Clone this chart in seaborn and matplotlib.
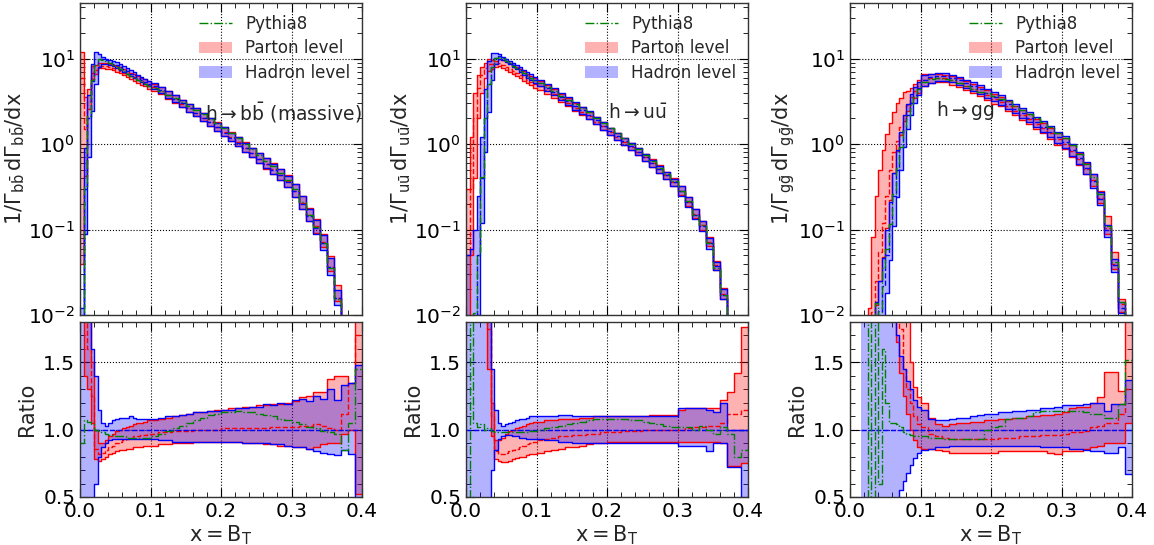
import numpy as np
import pandas as pd
import matplotlib
matplotlib.use("Agg")
import matplotlib.pyplot as plt
import seaborn as sns
from matplotlib.lines import Line2D
from matplotlib.patches import Patch
from matplotlib.ticker import MultipleLocator, LogLocator

nan = np.nan

# bin edges: 0.005 wide below 0.1, 0.01 wide above
x_edges = np.round(np.concatenate([np.linspace(0, 0.095, 20), np.linspace(0.1, 0.4, 31)]), 4)

# ---------------- h -> b bbar (massive) ----------------
# hadron-level central value (top panel), one value per bin
bb_hadron = [0.004, 0.3, 2.0, 5.5, 8.5, 10.0, 10.0, 9.6, 9.2, 8.8,
             8.4, 8.0, 7.5, 7.1, 6.7, 6.4, 6.0, 5.7, 5.4, 5.1,
             4.8, 4.3, 3.8, 3.4, 3.0, 2.65, 2.35, 2.05, 1.8, 1.57,
             1.37, 1.19, 1.04, 0.90, 0.78, 0.67, 0.58, 0.50, 0.43, 0.36,
             0.28, 0.20, 0.145, 0.105, 0.07, 0.036, 0.016, 0.005, 0.002, 0.0008]
# everything below is relative to the hadron central value (ratio panel)
bb_had_lo = [0.2, 0.3, 0.35, 0.45, 0.6, 0.8, 0.87, 0.9, 0.92, 0.93,
             0.93, 0.93, 0.93, 0.93, 0.93, 0.93, 0.93, 0.93, 0.93, 0.93,
             0.93, 0.92, 0.92, 0.91, 0.91, 0.91, 0.91, 0.91, 0.91, 0.91,
             0.91, 0.91, 0.91, 0.90, 0.90, 0.90, 0.90, 0.89, 0.89, 0.88,
             0.87, 0.87, 0.86, 0.84, 0.83, 0.82, 0.81, 0.85, 0.82, 0.48]
bb_had_hi = [3.0, 3.0, 1.9, 1.6, 1.4, 1.15, 1.05, 1.03, 1.05, 1.07,
             1.08, 1.09, 1.09, 1.09, 1.10, 1.09, 1.08, 1.08, 1.08, 1.08,
             1.08, 1.09, 1.10, 1.10, 1.11, 1.12, 1.13, 1.13, 1.14, 1.14,
             1.15, 1.15, 1.16, 1.16, 1.17, 1.17, 1.19, 1.18, 1.20, 1.19,
             1.22, 1.23, 1.21, 1.25, 1.23, 1.30, 1.22, 1.33, 1.35, 1.48]
bb_parton = [1500, 5.0, 1.6, 1.25, 0.86, 0.82, 0.83, 0.85, 0.87, 0.88,
             0.90, 0.91, 0.92, 0.93, 0.94, 0.95, 0.95, 0.96, 0.96, 0.97,
             0.97, 0.98, 0.98, 0.99, 0.99, 0.99, 1.0, 1.0, 1.0, 1.0,
             1.01, 1.01, 1.01, 1.01, 1.01, 1.01, 1.01, 1.02, 1.02, 1.02,
             1.02, 1.03, 1.03, 1.04, 1.03, 1.01, 1.0, 1.12, 1.35, 1.7]
bb_par_lo = [10, 1.4, 1.3, 1.05, 0.78, 0.77, 0.78, 0.80, 0.82, 0.83,
             0.84, 0.85, 0.85, 0.86, 0.86, 0.87, 0.87, 0.87, 0.88, 0.88,
             0.88, 0.89, 0.89, 0.90, 0.90, 0.90, 0.91, 0.91, 0.91, 0.91,
             0.91, 0.91, 0.91, 0.90, 0.90, 0.90, 0.89, 0.89, 0.88, 0.88,
             0.87, 0.87, 0.86, 0.87, 0.89, 0.90, 0.90, 0.97, 1.0, 0.52]
bb_par_hi = [3000, 12, 2.2, 1.5, 1.0, 0.9, 0.9, 0.92, 0.95, 0.97,
             0.99, 1.0, 1.01, 1.02, 1.03, 1.04, 1.05, 1.05, 1.06, 1.07,
             1.07, 1.08, 1.09, 1.10, 1.11, 1.12, 1.13, 1.13, 1.14, 1.15,
             1.15, 1.16, 1.16, 1.17, 1.17, 1.18, 1.18, 1.19, 1.19, 1.20,
             1.21, 1.24, 1.25, 1.28, 1.28, 1.38, 1.40, 1.40, 1.35, 2.5]
bb_pythia = [0.9, 1.07, 1.06, 1.04, 1.0, 0.99, 0.98, 0.97, 0.96, 0.96,
             0.95, 0.95, 0.95, 0.94, 0.94, 0.94, 0.94, 0.94, 0.94, 0.94,
             0.95, 0.97, 0.99, 1.01, 1.03, 1.05, 1.07, 1.09, 1.11, 1.12,
             1.13, 1.13, 1.14, 1.13, 1.13, 1.12, 1.11, 1.10, 1.08, 1.07,
             1.06, 1.04, 1.02, 1.01, 0.99, 0.98, 0.97, 0.85, 1.05, 1.45]

# ---------------- h -> u ubar ----------------
uu_hadron = [0.001, 0.003, 0.01, 0.05, 0.4, 2.0, 5.0, 8.0, 10.3, 10.8,
             10.3, 9.6, 9.0, 8.4, 7.9, 7.4, 6.9, 6.4, 6.0, 5.6,
             5.2, 4.6, 4.1, 3.6, 3.2, 2.8, 2.5, 2.2, 1.9, 1.65,
             1.42, 1.24, 1.08, 0.94, 0.82, 0.70, 0.60, 0.51, 0.43, 0.36,
             0.28, 0.21, 0.15, 0.11, 0.07, 0.037, 0.017, 0.005, 0.002, 0.0008]
uu_had_lo = [0.02, 0.05, 0.1, 0.2, 0.3, 0.4, 0.48, 0.7, 0.85, 0.93,
             0.95, 0.96, 0.96, 0.95, 0.95, 0.94, 0.94, 0.93, 0.93, 0.93,
             0.93, 0.92, 0.92, 0.91, 0.91, 0.90, 0.90, 0.90, 0.90, 0.90,
             0.90, 0.90, 0.90, 0.90, 0.90, 0.90, 0.90, 0.90, 0.90, 0.90,
             0.88, 0.88, 0.88, 0.88, 0.845, 0.90, 0.90, 0.72, 0.72, 0.3]
uu_had_hi = [50, 20, 10, 5, 3, 2.2, 1.9, 1.45, 1.15, 1.05,
             1.03, 1.04, 1.05, 1.06, 1.07, 1.08, 1.08, 1.09, 1.10, 1.10,
             1.10, 1.10, 1.10, 1.11, 1.11, 1.10, 1.10, 1.10, 1.10, 1.10,
             1.10, 1.10, 1.10, 1.10, 1.10, 1.10, 1.10, 1.10, 1.10, 1.10,
             1.16, 1.16, 1.16, 1.16, 1.15, 1.13, 1.20, 1.0, 1.0, 1.0]
uu_parton = [50, 100, 200, 90, 16, 3.9, 1.75, 1.1, 0.84, 0.82,
             0.82, 0.83, 0.84, 0.85, 0.86, 0.87, 0.88, 0.89, 0.90, 0.91,
             0.92, 0.93, 0.94, 0.95, 0.95, 0.96, 0.96, 0.97, 0.97, 0.98,
             0.98, 0.98, 0.99, 0.99, 0.99, 1.0, 1.0, 1.0, 1.0, 1.0,
             1.0, 1.01, 1.02, 1.02, 1.03, 1.03, 1.05, 1.12, 1.12, 1.15]
uu_par_lo = [8, 17, 40, 40, 10, 3.0, 1.45, 0.95, 0.78, 0.77,
             0.76, 0.76, 0.77, 0.78, 0.79, 0.80, 0.80, 0.81, 0.82, 0.82,
             0.83, 0.84, 0.85, 0.86, 0.87, 0.87, 0.88, 0.89, 0.90, 0.90,
             0.91, 0.91, 0.91, 0.91, 0.91, 0.91, 0.91, 0.91, 0.91, 0.91,
             0.91, 0.91, 0.91, 0.91, 0.91, 0.91, 0.90, 0.73, 0.73, 0.75]
uu_par_hi = [300, 400, 400, 130, 20, 4.5, 2.0, 1.2, 0.92, 0.92,
             0.94, 0.97, 0.99, 1.0, 1.01, 1.02, 1.03, 1.04, 1.05, 1.06,
             1.06, 1.07, 1.07, 1.08, 1.08, 1.08, 1.09, 1.09, 1.10, 1.10,
             1.10, 1.10, 1.10, 1.10, 1.10, 1.10, 1.11, 1.11, 1.11, 1.11,
             1.15, 1.16, 1.16, 1.16, 1.16, 1.16, 1.22, 1.28, 1.42, 1.76]
uu_pythia = [0.3, 2.5, 1.05, 1.02, 1.04, 1.0, 1.01, 0.99, 0.98, 0.98,
             0.98, 0.98, 0.98, 0.98, 0.98, 0.98, 0.98, 0.98, 0.99, 0.99,
             1.0, 1.01, 1.02, 1.03, 1.04, 1.05, 1.06, 1.07, 1.08, 1.08,
             1.08, 1.08, 1.08, 1.07, 1.07, 1.06, 1.05, 1.04, 1.03, 1.02,
             1.02, 1.02, 1.0, 1.03, 1.0, 0.97, 1.02, 0.97, 0.8, 0.85]

# ---------------- h -> g g ----------------
gg_hadron = [nan, nan, nan, 2e-4, 5e-4, 1.2e-3, 2.7e-3, 5.5e-3, 0.011, 0.022,
             0.05, 0.11, 0.25, 0.5, 0.9, 1.5, 2.2, 3.0, 3.8, 4.6,
             5.6, 6.1, 6.3, 6.3, 6.0, 5.6, 5.2, 4.8, 4.4, 4.0,
             3.6, 3.3, 2.95, 2.6, 2.3, 2.05, 1.8, 1.6, 1.4, 1.2,
             1.05, 0.85, 0.68, 0.52, 0.37, 0.23, 0.10, 0.038, 0.012, 0.003]
gg_had_lo = [nan, nan, nan, 0.05, 0.1, 0.15, 0.2, 0.25, 0.3, 0.33,
             0.36, 0.4, 0.44, 0.48, 0.55, 0.62, 0.68, 0.74, 0.79, 0.83,
             0.85, 0.86, 0.87, 0.87, 0.88, 0.88, 0.88, 0.88, 0.88, 0.88,
             0.88, 0.88, 0.88, 0.88, 0.88, 0.88, 0.88, 0.87, 0.87, 0.87,
             0.87, 0.86, 0.86, 0.85, 0.84, 0.84, 0.83, 0.83, 0.87, 0.67]
gg_had_hi = [nan, nan, nan, 5, 4, 3.5, 3, 2.6, 2.3, 2.1,
             2.0, 1.9, 1.85, 1.7, 1.55, 1.45, 1.36, 1.3, 1.22, 1.17,
             1.15, 1.08, 1.07, 1.07, 1.08, 1.09, 1.09, 1.10, 1.11, 1.12,
             1.12, 1.13, 1.13, 1.14, 1.14, 1.15, 1.15, 1.16, 1.16, 1.17,
             1.18, 1.18, 1.18, 1.19, 1.20, 1.20, 1.14, 1.19, 1.19, 1.37]
gg_parton = [nan, nan, nan, 4, 4, 4, 4, 4.5, 5, 5.5,
             5, 4.5, 3.2, 2.2, 1.75, 1.45, 1.3, 1.2, 1.1, 1.04,
             1.02, 0.97, 0.95, 0.94, 0.93, 0.93, 0.93, 0.93, 0.93, 0.93,
             0.93, 0.94, 0.94, 0.94, 0.95, 0.95, 0.95, 0.96, 0.96, 0.96,
             0.97, 0.98, 0.98, 0.99, 1.02, 1.03, 1.05, 1.05, 1.12, 1.3]
gg_par_lo = [nan, nan, nan, 2.5, 2.5, 2.5, 2.5, 2.4, 2.3, 2.2,
             2.1, 2.0, 1.85, 1.65, 1.42, 1.25, 1.12, 1.0, 0.92, 0.87,
             0.86, 0.855, 0.85, 0.84, 0.83, 0.83, 0.83, 0.83, 0.83, 0.83,
             0.83, 0.84, 0.84, 0.84, 0.84, 0.84, 0.84, 0.84, 0.83, 0.82,
             0.84, 0.84, 0.84, 0.86, 0.87, 0.88, 0.90, 0.90, 0.90, 1.05]
gg_par_hi = [nan, nan, nan, 5, 6, 10, 30, 45, 45, 39,
             26, 16, 9.6, 6, 3.9, 2.7, 1.9, 1.5, 1.32, 1.24,
             1.2, 1.09, 1.04, 1.03, 1.04, 1.05, 1.05, 1.06, 1.06, 1.07,
             1.07, 1.08, 1.08, 1.09, 1.09, 1.10, 1.10, 1.11, 1.11, 1.12,
             1.13, 1.16, 1.17, 1.17, 1.20, 1.24, 1.43, 1.43, 1.29, 2.5]
gg_pythia = [nan, nan, nan, nan, 0.3, 3.0, 0.4, 2.5, 0.6, 1.6,
             1.2, 1.05, 1.05, 1.04, 1.02, 0.98, 0.97, 0.96, 0.95, 0.95,
             0.95, 0.94, 0.94, 0.93, 0.93, 0.93, 0.93, 0.93, 0.93, 1.0,
             1.02, 1.03, 1.08, 1.09, 1.09, 1.10, 1.13, 1.14, 1.14, 1.14,
             1.14, 1.14, 1.14, 1.13, 1.12, 1.12, 1.09, 1.09, 1.19, 1.52]

panels = [
    dict(h=bb_hadron, hlo=bb_had_lo, hhi=bb_had_hi, p=bb_parton, plo=bb_par_lo, phi=bb_par_hi, py=bb_pythia,
         ylab=r'$\mathrm{1/\Gamma_{b\bar{b}}\,d\Gamma_{b\bar{b}}/dx}$',
         tag=r'$\mathrm{h\rightarrow b\bar{b}\ (massive)}$', tx=0.443, ty=0.65),
    dict(h=uu_hadron, hlo=uu_had_lo, hhi=uu_had_hi, p=uu_parton, plo=uu_par_lo, phi=uu_par_hi, py=uu_pythia,
         ylab=r'$\mathrm{1/\Gamma_{u\bar{u}}\,d\Gamma_{u\bar{u}}/dx}$',
         tag=r'$\mathrm{h\rightarrow u\bar{u}}$', tx=0.505, ty=0.65),
    dict(h=gg_hadron, hlo=gg_had_lo, hhi=gg_had_hi, p=gg_parton, plo=gg_par_lo, phi=gg_par_hi, py=gg_pythia,
         ylab=r'$\mathrm{1/\Gamma_{g\bar{g}}\,d\Gamma_{g\bar{g}}/dx}$',
         tag=r'$\mathrm{h\rightarrow gg}$', tx=0.304, ty=0.655),
]

sns.set_style("ticks")
plt.rcParams.update({
    "font.family": ["DejaVu Sans"],
    "xtick.direction": "in", "ytick.direction": "in",
    "xtick.top": True, "ytick.right": True,
    "xtick.minor.visible": True, "ytick.minor.visible": True,
    "xtick.major.size": 6.5, "ytick.major.size": 6.5,
    "xtick.minor.size": 3.5, "ytick.minor.size": 3.5,
    "xtick.color": "black", "ytick.color": "black",
    "axes.edgecolor": "0.2", "axes.linewidth": 1.0,
    "xtick.labelsize": 14.5, "ytick.labelsize": 14.5,
    "axes.labelsize": 15,
})


def ext(v):
    v = np.asarray(v, dtype=float)
    return np.append(v, v[-1])


def steps(ax, y, color, ls, lw=1.0):
    df = pd.DataFrame({"x": x_edges, "y": ext(y)})
    sns.lineplot(data=df, x="x", y="y", ax=ax, color=color, linestyle=ls, linewidth=lw,
                 drawstyle="steps-post", estimator=None, sort=False, legend=False)


def draw(ax, had_c, had_lo, had_hi, par_c, par_lo, par_hi, py):
    ax.fill_between(x_edges, ext(par_lo), ext(par_hi), step="post", color="red", alpha=0.3, lw=0)
    ax.fill_between(x_edges, ext(had_lo), ext(had_hi), step="post", color="blue", alpha=0.3, lw=0)
    steps(ax, par_lo, "red", "-")
    steps(ax, par_hi, "red", "-")
    steps(ax, par_c, "red", "--")
    steps(ax, had_lo, "blue", "-")
    steps(ax, had_hi, "blue", "-")
    steps(ax, had_c, "blue", "--")
    steps(ax, py, "green", "-.")


fig = plt.figure(figsize=(11.54, 5.45), dpi=100)
lefts = [80 / 1154, 466 / 1154, 850 / 1154]
w = 282 / 1154

for left, pan in zip(lefts, panels):
    ax = fig.add_axes([left, 1 - 315 / 545, w, 312 / 545])
    axr = fig.add_axes([left, 1 - 497 / 545, w, 175 / 545])

    h = np.array(pan["h"], dtype=float)
    r = {k: np.array(pan[k], dtype=float) for k in ["hlo", "hhi", "p", "plo", "phi", "py"]}

    # top: absolute distributions
    ax.set_yscale("log")
    draw(ax, h, h * r["hlo"], h * r["hhi"], h * r["p"], h * r["plo"], h * r["phi"], h * r["py"])
    ax.set_xlim(0, 0.4)
    ax.set_ylim(1e-2, 45)
    ax.yaxis.set_major_locator(LogLocator(base=10, numticks=10))
    ax.yaxis.set_minor_locator(LogLocator(base=10, subs=np.arange(2, 10), numticks=20))
    ax.xaxis.set_major_locator(MultipleLocator(0.1))
    ax.xaxis.set_minor_locator(MultipleLocator(0.02))
    ax.tick_params(labelbottom=False)
    ax.grid(True, which="major", color="black", linestyle=":", linewidth=0.8)
    ax.set_xlabel("")
    ax.set_ylabel(pan["ylab"], fontsize=15, labelpad=1)
    ax.text(pan["tx"], pan["ty"], pan["tag"], transform=ax.transAxes, fontsize=13.5, va="center")
    handles = [Line2D([], [], color="green", ls="-.", lw=1),
               Patch(facecolor="red", alpha=0.3, lw=0),
               Patch(facecolor="blue", alpha=0.3, lw=0)]
    ax.legend(handles, ["Pythia8", "Parton level", "Hadron level"], loc="upper right",
              frameon=False, fontsize=12, handlelength=2.0, labelspacing=0.4,
              borderaxespad=0.3)

    # bottom: ratio to hadron-level central value
    draw(axr, h / h, r["hlo"], r["hhi"], r["p"], r["plo"], r["phi"], r["py"])
    axr.set_xlim(0, 0.4)
    axr.set_ylim(0.5, 1.8)
    axr.xaxis.set_major_locator(MultipleLocator(0.1))
    axr.xaxis.set_minor_locator(MultipleLocator(0.02))
    axr.yaxis.set_major_locator(MultipleLocator(0.5))
    axr.yaxis.set_minor_locator(MultipleLocator(0.1))
    axr.grid(True, which="major", color="black", linestyle=":", linewidth=0.8)
    axr.set_xlabel(r'$\mathrm{x = B_T}$', fontsize=15, labelpad=2)
    axr.set_ylabel("Ratio", fontsize=15)

fig.savefig("out.png", dpi=100)
